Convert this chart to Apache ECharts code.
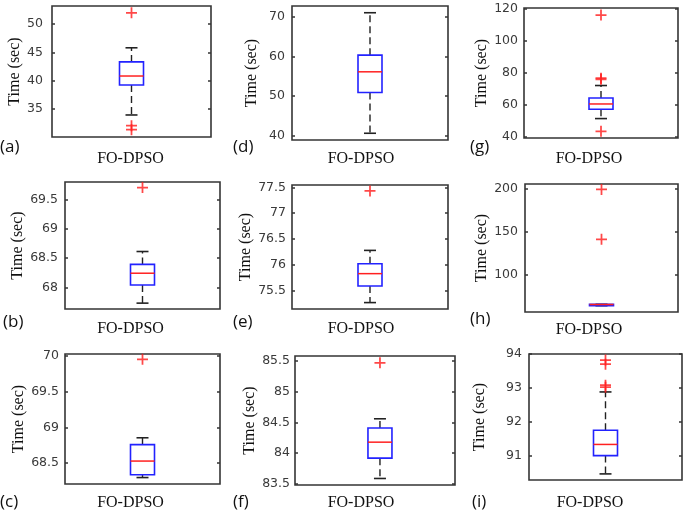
<!DOCTYPE html>
<html>
<head>
<meta charset="utf-8">
<script src="https://cdn.jsdelivr.net/npm/echarts@6/dist/echarts.min.js"></script>
<style>
html,body{margin:0;padding:0;background:#fff;}
#chart{width:685px;height:514px;}
</style>
</head>
<body>
<div id="chart"></div>
<script>
// ---- data ----
const categories = ['FO-DPSO'];
const panelLetters = ['(a)', '(b)', '(c)', '(d)', '(e)', '(f)', '(g)', '(h)', '(i)'];
const yAxisName = 'Time (sec)';

// box values: [lower whisker, Q1, median, Q3, upper whisker]
const boxA = [33.9, 39.2, 40.8, 43.3, 45.8];
const outA = [52.0, 32.0, 31.3];
const ticksA = [35, 40, 45, 50];

const boxB = [67.73, 68.04, 68.24, 68.39, 68.61];
const outB = [69.70];
const ticksB = [68, 68.5, 69, 69.5];

const boxC = [68.30, 68.34, 68.53, 68.76, 68.855];
const outC = [69.95];
const ticksC = [68.5, 69, 69.5, 70];

const boxD = [40.6, 50.9, 56.1, 60.3, 71.0];
const outD = [];
const ticksD = [40, 50, 60, 70];

const boxE = [75.27, 75.59, 75.83, 76.02, 76.28];
const outE = [77.43];
const ticksE = [75.5, 76, 76.5, 77, 77.5];

const boxF = [83.59, 83.92, 84.18, 84.41, 84.56];
const outF = [85.47];
const ticksF = [83.5, 84, 84.5, 85, 85.5];

const boxG = [51.3, 57.1, 60.4, 64.1, 71.9];
const outG = [115.8, 76.5, 75.8, 43.4];
const ticksG = [40, 60, 80, 100, 120];

const boxH = [63.2, 63.2, 64.6, 64.8, 64.8];
const outH = [199.5, 141.1];
const ticksH = [100, 150, 200];

const boxI = [90.46, 91.0, 91.33, 91.75, 92.88];
const outI = [93.82, 93.70, 93.08, 93.02];
const ticksI = [91, 92, 93, 94];

// ---- layout (positions / styles only) ----
// g: grid [left, top, width, height]; xr: x-range of the hidden value x axis (box sits at 0)
// lm: tick label margin, ng: y name gap, cx/by: FO-DPSO label centre x / baseline y, lp: letter position
const layout = [
  {box: boxA, out: outA, ticks: ticksA, g: [52, 6, 159, 131], min: 30.0, max: 53.2, lm: 9, ng: 22, xr: [-0.5, 0.5], cx: 130.5, by: 164, lp: [0, 139], letter: panelLetters[0]},
  {box: boxD, out: outD, ticks: ticksD, g: [292, 6, 156, 134], min: 38.9, max: 72.7, lm: 7, ng: 32, xr: [-0.5, 0.5], cx: 361, by: 164, lp: [233, 139], letter: panelLetters[3]},
  {box: boxG, out: outG, ticks: ticksG, g: [524, 8, 154, 130], min: 39.2, max: 120.2, lm: 6, ng: 34, xr: [-0.5, 0.5], cx: 589, by: 164, lp: [470, 139], letter: panelLetters[6]},
  {box: boxB, out: outB, ticks: ticksB, g: [65, 182, 155, 127], min: 67.63, max: 69.795, lm: 7, ng: 35, xr: [-0.5, 0.5], cx: 130.5, by: 334, lp: [3, 314], letter: panelLetters[1]},
  {box: boxE, out: outE, ticks: ticksE, g: [292, 185, 156, 124], min: 75.146, max: 77.545, lm: 6, ng: 32, xr: [-0.5, 0.5], cx: 361, by: 334, lp: [233, 314], letter: panelLetters[4]},
  {box: boxH, out: outH, ticks: ticksH, g: [525, 184, 153, 128], min: 55.8, max: 205.9, lm: 7, ng: 35, xr: [-0.5, 0.5], cx: 589, by: 335, lp: [470, 311], letter: panelLetters[7]},
  {box: boxC, out: outC, ticks: ticksC, g: [65, 354, 155, 130], min: 68.21, max: 70.024, lm: 6, ng: 35, xr: [-0.5, 0.5], cx: 130.5, by: 508, lp: [0, 494], letter: panelLetters[2]},
  {box: boxF, out: outF, ticks: ticksF, g: [295, 356, 160, 129], min: 83.484, max: 85.58, lm: 5, ng: 35, xr: [-0.531, 0.469], cx: 361, by: 508, lp: [233, 494], letter: panelLetters[5]},
  {box: boxI, out: outI, ticks: ticksI, g: [529, 354, 153, 126], min: 90.28, max: 94.0, lm: 7, ng: 41, xr: [-0.5, 0.5], cx: 590, by: 508, lp: [472, 494], letter: panelLetters[8]}
];

const grids = [], xAxes = [], yAxes = [], series = [], graphics = [];
const tickFmt = v => String(Math.round(v * 1000) / 1000);
const axisColor = '#353535';

layout.forEach((p, i) => {
  grids.push({
    left: p.g[0], top: p.g[1], width: p.g[2], height: p.g[3],
    show: true, borderColor: axisColor, borderWidth: 1.6, backgroundColor: '#fff'
  });
  xAxes.push({
    type: 'value', gridIndex: i, min: p.xr[0], max: p.xr[1],
    axisLine: {show: false, onZero: false}, axisTick: {show: false}, splitLine: {show: false},
    axisLabel: {show: false}
  });
  yAxes.push({
    type: 'value', gridIndex: i, position: 'left', min: p.min, max: p.max,
    name: yAxisName, nameLocation: 'middle', nameGap: p.ng, nameRotate: 90,
    nameTextStyle: {fontFamily: 'Liberation Serif', fontSize: 16, color: '#111'},
    axisLine: {show: false, onZero: false}, splitLine: {show: false},
    axisTick: {show: true, inside: true, length: 3, customValues: p.ticks, lineStyle: {color: axisColor, width: 1.5}},
    axisLabel: {margin: p.lm, customValues: p.ticks, formatter: tickFmt, fontFamily: 'DejaVu Sans', fontSize: 12.5, color: '#3a3a3a'}
  });
  yAxes.push({
    type: 'value', gridIndex: i, position: 'right', min: p.min, max: p.max,
    axisLine: {show: false, onZero: false}, splitLine: {show: false},
    axisTick: {show: true, inside: true, length: 3, customValues: p.ticks, lineStyle: {color: axisColor, width: 1.5}},
    axisLabel: {show: false}
  });
  series.push({
    type: 'custom', xAxisIndex: i, yAxisIndex: 2 * i,
    encode: {x: 0, y: [1, 2, 3, 4, 5]},
    data: [[0].concat(p.box)],
    clip: false,
    renderItem: function (params, api) {
      const pt = k => api.coord([api.value(0), api.value(k)]);
      const lo = pt(1), q1 = pt(2), md = pt(3), q3 = pt(4), hi = pt(5);
      const cx = lo[0], bw = 24, cw = 12;
      const dash = {stroke: '#222', lineWidth: 1.4, lineDash: [7, 4]};
      const solid = {stroke: '#222', lineWidth: 1.6};
      return {
        type: 'group',
        children: [
          {type: 'line', shape: {x1: cx, y1: q3[1], x2: cx, y2: hi[1]}, style: dash},
          {type: 'line', shape: {x1: cx, y1: q1[1], x2: cx, y2: lo[1]}, style: dash},
          {type: 'line', shape: {x1: cx - cw / 2, y1: hi[1], x2: cx + cw / 2, y2: hi[1]}, style: solid},
          {type: 'line', shape: {x1: cx - cw / 2, y1: lo[1], x2: cx + cw / 2, y2: lo[1]}, style: solid},
          {type: 'rect', shape: {x: cx - bw / 2, y: q3[1], width: bw, height: Math.max(q1[1] - q3[1], 0.5)},
            style: {fill: '#fff', stroke: '#2222ff', lineWidth: 1.6}},
          {type: 'line', shape: {x1: cx - bw / 2, y1: md[1], x2: cx + bw / 2, y2: md[1]}, style: {stroke: '#ff2020', lineWidth: 1.5}}
        ]
      };
    }
  });
  series.push({
    type: 'scatter', xAxisIndex: i, yAxisIndex: 2 * i,
    data: p.out.map(v => [0, v]),
    symbol: 'path://M4.2,0h1.6v10h-1.6zM0,4.2h10v1.6h-10z',
    symbolSize: 11,
    itemStyle: {color: '#ff1a1a'},
    silent: true, animation: false
  });
  // category label under each panel
  graphics.push({
    type: 'text', x: p.cx, y: p.by - 13.4, silent: true,
    style: {text: categories[0], align: 'center', verticalAlign: 'top',
      font: '16px "Liberation Serif"', fill: '#111'}
  });
  // panel letter
  graphics.push({
    type: 'text', x: p.lp[0], y: p.lp[1], silent: true,
    style: {text: p.letter, align: 'left', verticalAlign: 'top',
      font: '17px "Open Sans"', fill: '#111'}
  });
});

const chart = echarts.init(document.getElementById('chart'), null, {renderer: 'canvas'});
chart.setOption({
  animation: false,
  backgroundColor: '#fff',
  grid: grids,
  xAxis: xAxes,
  yAxis: yAxes,
  series: series,
  graphic: {elements: graphics}
});
</script>
</body>
</html>
